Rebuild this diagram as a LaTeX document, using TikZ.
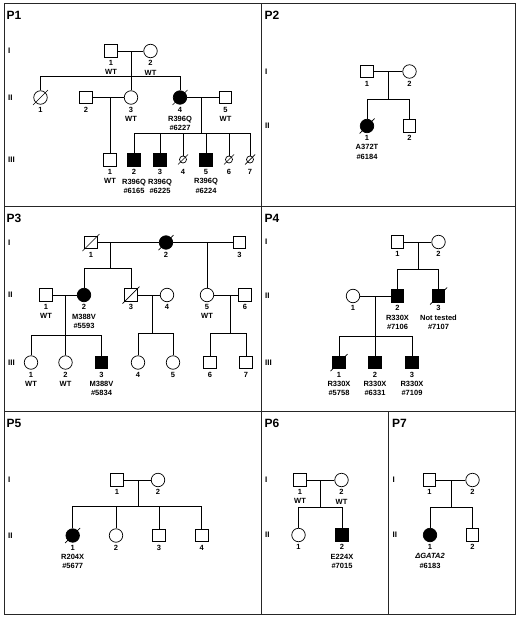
\documentclass[tikz,border=0pt]{standalone}
\usepackage{fontspec}
\setmainfont{Liberation Sans}
\usetikzlibrary{calc}
\tikzset{
  ln/.style={line width=0.7pt},
  frame/.style={line width=0.8pt, draw=black!85},
  male/.style={draw, line width=0.7pt, rectangle, minimum size=12.5pt, inner sep=0pt},
  female/.style={draw, line width=0.7pt, circle, minimum size=13.5pt, inner sep=0pt},
  tinyc/.style={draw, line width=0.7pt, circle, minimum size=7pt, inner sep=0pt},
  aff/.style={fill=black},
  lab/.style={anchor=north, align=center, inner sep=0pt, font=\fontsize{7.5}{9.3}\selectfont\bfseries},
  gen/.style={anchor=west, inner sep=0pt, font=\fontsize{8}{9}\selectfont\bfseries},
  panel/.style={anchor=west, inner sep=0pt, font=\fontsize{12}{14}\selectfont\bfseries},
}
\newcommand\plab[2]{\node[lab] (#1L) at ([yshift=-9.3pt]#1.center) {#2};}
\newcommand\dead[2]{\draw[ln] ($(#1)+(-#2,#2)$) -- ($(#1)+(#2,-#2)$);}
\begin{document}
\begin{tikzpicture}[x=1pt,y=-1pt]
\useasboundingbox (0,0) rectangle (520,621);
% frame and dividers
\draw[frame] (4.5,3) rectangle (515.5,614.5);
\draw[frame] (4.5,206.7) -- (515.5,206.7);
\draw[frame] (4.5,411) -- (515.5,411);
\draw[frame] (261,3) -- (261,614.5);
\draw[frame] (388.3,411) -- (388.3,614.5);

%%%%%%%%%%%%%%%% P1
\node[panel] (P1t) at (6.5,15) {P1};
\node[gen] (P1g1) at (8,51) {I};
\node[gen] (P1g2) at (8,97.5) {II};
\node[gen] (P1g3) at (8,160) {III};
\node[male] (P1a1) at (111,51) {};
\node[female] (P1a2) at (150.5,51) {};
\node[female] (P1b1) at (40.5,97.5) {};
\node[male] (P1b2) at (86,97.5) {};
\node[female] (P1b3) at (131,97.5) {};
\node[female,aff] (P1b4) at (180,97.5) {};
\node[male] (P1b5) at (225.5,97.5) {};
\node[male] (P1c1) at (110,160) {};
\node[male,aff] (P1c2) at (134,160) {};
\node[male,aff] (P1c3) at (160,160) {};
\node[tinyc] (P1c4) at (183,159.5) {};
\node[male,aff] (P1c5) at (206,160) {};
\node[tinyc] (P1c6) at (229,159.5) {};
\node[tinyc] (P1c7) at (250,159.5) {};
\coordinate (P1s1) at (131,76);
\coordinate (P1s2) at (201,133);
\draw[ln] (P1a1) -- (P1a2);
\draw[ln] (P1b3.north) -- (P1b3 |- P1a2);
\draw[ln] (P1b1.north) -- (P1b1 |- P1s1) -- (P1b4 |- P1s1) -- (P1b4.north);
\draw[ln] (P1b2) -- (P1b3);
\draw[ln] (P1c1.north) -- (P1c1 |- P1b2);
\draw[ln] (P1b4) -- (P1b5);
\draw[ln] (P1s2) -- (P1s2 |- P1b5);
\draw[ln] (P1c2.north) -- (P1c2 |- P1s2) -- (P1c7 |- P1s2) -- (P1c7.north);
\foreach \c in {P1c3,P1c4,P1c5,P1c6} \draw[ln] (\c.north) -- (\c |- P1s2);
\dead{P1b1}{7.5}
\dead{P1b4}{7.5}
\dead{P1c4}{5}
\dead{P1c6}{5}
\dead{P1c7}{5}
\plab{P1a1}{1\\WT}
\plab{P1a2}{2\\WT}
\plab{P1b1}{1}
\plab{P1b2}{2}
\plab{P1b3}{3\\WT}
\plab{P1b4}{4\\R396Q\\\#6227}
\plab{P1b5}{5\\WT}
\plab{P1c1}{1\\WT}
\plab{P1c2}{2\\R396Q\\\#6165}
\plab{P1c3}{3\\R396Q\\\#6225}
\node[lab] (P1c4L) at (P1c4 |- P1c3L.north) {4};
\plab{P1c5}{5\\R396Q\\\#6224}
\node[lab] (P1c6L) at (P1c6 |- P1c3L.north) {6};
\node[lab] (P1c7L) at (P1c7 |- P1c3L.north) {7};

%%%%%%%%%%%%%%%% P2
\node[panel] (P2t) at (264.5,15) {P2};
\node[gen] (P2g1) at (265,71.5) {I};
\node[gen] (P2g2) at (265,126) {II};
\node[male] (P2a1) at (367,71.5) {};
\node[female] (P2a2) at (409.5,71.5) {};
\node[female,aff] (P2b1) at (367,126) {};
\node[male] (P2b2) at (409.5,126) {};
\coordinate (P2s) at (388,99);
\draw[ln] (P2a1) -- (P2a2);
\draw[ln] (P2s) -- (P2s |- P2a1);
\draw[ln] (P2b1.north) -- (P2b1 |- P2s) -- (P2b2 |- P2s) -- (P2b2.north);
\dead{P2b1}{7.5}
\plab{P2a1}{1}
\plab{P2a2}{2}
\plab{P2b1}{1\\A372T\\\#6184}
\plab{P2b2}{2}

%%%%%%%%%%%%%%%% P3
\node[panel] (P3t) at (6.5,218) {P3};
\node[gen] (P3g1) at (8,242.5) {I};
\node[gen] (P3g2) at (8,295) {II};
\node[gen] (P3g3) at (8,362.5) {III};
\node[male] (P3a1) at (91,242.5) {};
\node[female,aff] (P3a2) at (166,242.5) {};
\node[male] (P3a3) at (239.5,242.5) {};
\node[male] (P3b1) at (46,295) {};
\node[female,aff] (P3b2) at (84,295) {};
\node[male] (P3b3) at (131,295) {};
\node[female] (P3b4) at (167,295) {};
\node[female] (P3b5) at (207,295) {};
\node[male] (P3b6) at (245,295) {};
\node[female] (P3c1) at (31,362.5) {};
\node[female] (P3c2) at (65.5,362.5) {};
\node[male,aff] (P3c3) at (101.5,362.5) {};
\node[female] (P3c4) at (138,362.5) {};
\node[female] (P3c5) at (173,362.5) {};
\node[male] (P3c6) at (210,362.5) {};
\node[male] (P3c7) at (246,362.5) {};
\coordinate (P3s1) at (110,268);
\coordinate (P3s2) at (65.5,335);
\coordinate (P3s3) at (152,333);
\coordinate (P3s4) at (230,333);
\draw[ln] (P3a1) -- (P3a2);
\draw[ln] (P3a2) -- (P3a3);
\draw[ln] (P3s1) -- (P3s1 |- P3a1);
\draw[ln] (P3b2.north) -- (P3b2 |- P3s1) -- (P3b3 |- P3s1) -- (P3b3.north);
\draw[ln] (P3b5.north) -- (P3b5 |- P3a2);
\draw[ln] (P3b1) -- (P3b2);
\draw[ln] (P3b3) -- (P3b4);
\draw[ln] (P3b5) -- (P3b6);
\draw[ln] (P3s2) -- (P3s2 |- P3b1);
\draw[ln] (P3c1.north) -- (P3c1 |- P3s2) -- (P3c3 |- P3s2) -- (P3c3.north);
\draw[ln] (P3c2.north) -- (P3c2 |- P3s2);
\draw[ln] (P3s3) -- (P3s3 |- P3b3);
\draw[ln] (P3c4.north) -- (P3c4 |- P3s3) -- (P3c5 |- P3s3) -- (P3c5.north);
\draw[ln] (P3s4) -- (P3s4 |- P3b5);
\draw[ln] (P3c6.north) -- (P3c6 |- P3s4) -- (P3c7 |- P3s4) -- (P3c7.north);
\dead{P3a1}{8.5}
\dead{P3a2}{7.5}
\dead{P3b3}{8.5}
\plab{P3a1}{1}
\plab{P3a2}{2}
\plab{P3a3}{3}
\plab{P3b1}{1\\WT}
\plab{P3b2}{2\\M388V\\\#5593}
\plab{P3b3}{3}
\plab{P3b4}{4}
\plab{P3b5}{5\\WT}
\plab{P3b6}{6}
\plab{P3c1}{1\\WT}
\plab{P3c2}{2\\WT}
\plab{P3c3}{3\\M388V\\\#5834}
\plab{P3c4}{4}
\plab{P3c5}{5}
\plab{P3c6}{6}
\plab{P3c7}{7}

%%%%%%%%%%%%%%%% P4
\node[panel] (P4t) at (264.5,218) {P4};
\node[gen] (P4g1) at (265,242) {I};
\node[gen] (P4g2) at (265,296) {II};
\node[gen] (P4g3) at (265,362.5) {III};
\node[male] (P4a1) at (397.5,242) {};
\node[female] (P4a2) at (438.5,242) {};
\node[female] (P4b1) at (353,296) {};
\node[male,aff] (P4b2) at (397.5,296) {};
\node[male,aff] (P4b3) at (438.5,296) {};
\node[male,aff] (P4c1) at (339,362.5) {};
\node[male,aff] (P4c2) at (375,362.5) {};
\node[male,aff] (P4c3) at (412,362.5) {};
\coordinate (P4s1) at (418.5,269);
\coordinate (P4s2) at (375,336);
\draw[ln] (P4a1) -- (P4a2);
\draw[ln] (P4s1) -- (P4s1 |- P4a1);
\draw[ln] (P4b2.north) -- (P4b2 |- P4s1) -- (P4b3 |- P4s1) -- (P4b3.north);
\draw[ln] (P4b1) -- (P4b2);
\draw[ln] (P4s2) -- (P4s2 |- P4b1);
\draw[ln] (P4c1.north) -- (P4c1 |- P4s2) -- (P4c3 |- P4s2) -- (P4c3.north);
\draw[ln] (P4c2.north) -- (P4c2 |- P4s2);
\dead{P4b3}{8.5}
\dead{P4c1}{8.5}
\plab{P4a1}{1}
\plab{P4a2}{2}
\plab{P4b1}{1}
\plab{P4b2}{2\\R330X\\\#7106}
\plab{P4b3}{3\\Not tested\\\#7107}
\plab{P4c1}{1\\R330X\\\#5758}
\plab{P4c2}{2\\R330X\\\#6331}
\plab{P4c3}{3\\R330X\\\#7109}

%%%%%%%%%%%%%%%% P5
\node[panel] (P5t) at (6.5,423) {P5};
\node[gen] (P5g1) at (8,480) {I};
\node[gen] (P5g2) at (8,535.5) {II};
\node[male] (P5a1) at (117,480) {};
\node[female] (P5a2) at (158,480) {};
\node[female,aff] (P5b1) at (72.7,535.5) {};
\node[female] (P5b2) at (116,535.5) {};
\node[male] (P5b3) at (159,535.5) {};
\node[male] (P5b4) at (201.7,535.5) {};
\coordinate (P5s) at (138.3,506);
\draw[ln] (P5a1) -- (P5a2);
\draw[ln] (P5s) -- (P5s |- P5a1);
\draw[ln] (P5b1.north) -- (P5b1 |- P5s) -- (P5b4 |- P5s) -- (P5b4.north);
\draw[ln] (P5b2.north) -- (P5b2 |- P5s);
\draw[ln] (P5b3.north) -- (P5b3 |- P5s);
\dead{P5b1}{7.5}
\plab{P5a1}{1}
\plab{P5a2}{2}
\plab{P5b1}{1\\R204X\\\#5677}
\plab{P5b2}{2}
\plab{P5b3}{3}
\plab{P5b4}{4}

%%%%%%%%%%%%%%%% P6
\node[panel] (P6t) at (264.5,423) {P6};
\node[gen] (P6g1) at (265,480) {I};
\node[gen] (P6g2) at (265,535) {II};
\node[male] (P6a1) at (300,480) {};
\node[female] (P6a2) at (341.5,480) {};
\node[female] (P6b1) at (298.5,535) {};
\node[male,aff] (P6b2) at (342,535) {};
\coordinate (P6s) at (320.7,507.5);
\draw[ln] (P6a1) -- (P6a2);
\draw[ln] (P6s) -- (P6s |- P6a1);
\draw[ln] (P6b1.north) -- (P6b1 |- P6s) -- (P6b2 |- P6s) -- (P6b2.north);
\plab{P6a1}{1\\WT}
\plab{P6a2}{2\\WT}
\plab{P6b1}{1}
\plab{P6b2}{2\\E224X\\\#7015}

%%%%%%%%%%%%%%%% P7
\node[panel] (P7t) at (392,423) {P7};
\node[gen] (P7g1) at (392.5,480) {I};
\node[gen] (P7g2) at (392.5,535) {II};
\node[male] (P7a1) at (429.5,480) {};
\node[female] (P7a2) at (472.5,480) {};
\node[female,aff] (P7b1) at (430,535) {};
\node[male] (P7b2) at (472.5,535) {};
\coordinate (P7s) at (451.5,507.5);
\draw[ln] (P7a1) -- (P7a2);
\draw[ln] (P7s) -- (P7s |- P7a1);
\draw[ln] (P7b1.north) -- (P7b1 |- P7s) -- (P7b2 |- P7s) -- (P7b2.north);
\plab{P7a1}{1}
\plab{P7a2}{2}
\plab{P7b1}{1\\\textit{ΔGATA2}\\\#6183}
\plab{P7b2}{2}
\end{tikzpicture}
\end{document}
